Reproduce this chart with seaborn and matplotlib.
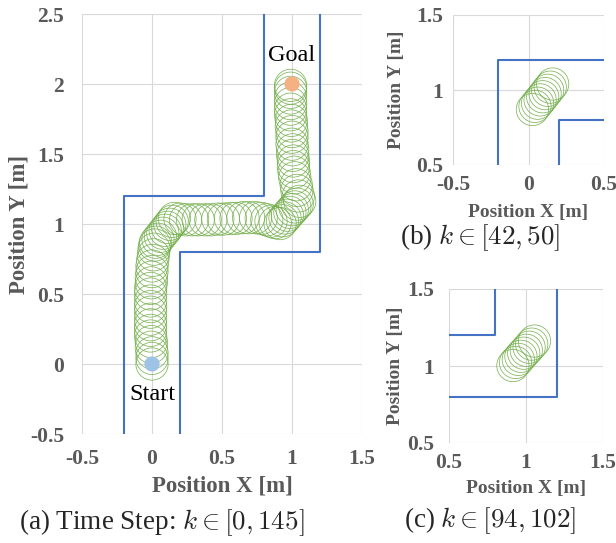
import matplotlib
matplotlib.use("Agg")
import matplotlib.pyplot as plt
import numpy as np
import pandas as pd
import seaborn as sns

# ---- robot footprint centres along the path [m] ----
# leg 1: straight up the first corridor
leg1_x = [0.0, 0.0, 0.0, -0.005, -0.005, -0.01, -0.01, -0.01, -0.01, -0.01, -0.01,
          -0.01, -0.01, -0.01, -0.005, -0.005, 0.0, 0.0, 0.005, 0.01, 0.015, 0.02]
leg1_y = [0.0, 0.04, 0.08, 0.12, 0.16, 0.20, 0.24, 0.28, 0.32, 0.37, 0.41,
          0.45, 0.50, 0.54, 0.58, 0.62, 0.66, 0.70, 0.74, 0.78, 0.82, 0.85]
# first turn, k = 42 ... 50
turn1_x = [0.026, 0.043, 0.06, 0.077, 0.094, 0.11, 0.127, 0.144, 0.16]
turn1_y = [0.87, 0.891, 0.912, 0.934, 0.955, 0.976, 0.998, 1.019, 1.04]
# leg 2: across the middle corridor
leg2_x = [0.20, 0.24, 0.29, 0.33, 0.38, 0.42, 0.47, 0.51, 0.56, 0.60,
          0.65, 0.69, 0.74, 0.78, 0.82, 0.85, 0.88]
leg2_y = [1.035, 1.03, 1.03, 1.03, 1.03, 1.03, 1.035, 1.035, 1.04, 1.04,
          1.045, 1.045, 1.045, 1.04, 1.03, 1.02, 1.01]
# second turn, k = 94 ... 102
turn2_x = [0.915, 0.932, 0.95, 0.967, 0.985, 1.002, 1.02, 1.037, 1.055]
turn2_y = [1.003, 1.023, 1.043, 1.063, 1.083, 1.102, 1.122, 1.142, 1.162]
# leg 3: up the last corridor to the goal
leg3_x = [1.045, 1.035, 1.03, 1.02, 1.015, 1.01, 1.01, 1.005, 1.005, 1.0, 1.0,
          1.0, 0.995, 0.995, 0.99, 0.99, 0.99, 0.99, 0.99, 0.99, 0.99]
leg3_y = [1.20, 1.24, 1.28, 1.33, 1.37, 1.41, 1.45, 1.49, 1.53, 1.57, 1.62,
          1.66, 1.70, 1.74, 1.78, 1.82, 1.86, 1.90, 1.94, 1.97, 1.99]

start_xy = (0.0, 0.0)
goal_xy = (1.0, 2.0)

# corridor walls
wall_left_x = [-0.2, -0.2, 0.8, 0.8]
wall_left_y = [-0.5, 1.2, 1.2, 2.5]
wall_right_x = [0.2, 0.2, 1.2, 1.2]
wall_right_y = [-0.5, 0.8, 0.8, 2.5]

tick_labels = {-0.5: "-0.5", 0.0: "0", 0.5: "0.5", 1.0: "1", 1.5: "1.5", 2.0: "2", 2.5: "2.5"}

GREEN = "#70AD47"
BLUE = "#4472C4"
GRAY = "#595959"
GRID = "#D9D9D9"

sns.set_theme(style="white")
plt.rcParams["font.family"] = ["Liberation Serif", "DejaVu Serif"]
plt.rcParams["mathtext.fontset"] = "cm"

fig = plt.figure(figsize=(6.16, 5.43), dpi=100)
W, H = 616, 543


def add_axes_px(left, top, right, bottom):
    return fig.add_axes([left / W, 1 - bottom / H, (right - left) / W, (bottom - top) / H])


def style_axes(ax, xlim, ylim, xticks, yticks, tick_fs, xpad, ypad, label_fs, xl_pos, yl_pos):
    ax.set_xlim(*xlim)
    ax.set_ylim(*ylim)
    ax.set_xticks(xticks)
    ax.set_yticks(yticks)
    ax.set_xticklabels([tick_labels[v] for v in xticks])
    ax.set_yticklabels([tick_labels[v] for v in yticks])
    for lab in ax.get_xticklabels() + ax.get_yticklabels():
        lab.set_fontweight("bold")
        lab.set_color(GRAY)
        lab.set_fontsize(tick_fs)
    ax.tick_params(axis="x", length=0, pad=xpad)
    ax.tick_params(axis="y", length=0, pad=ypad)
    for s in ax.spines.values():
        s.set_visible(False)
    ax.grid(True, color=GRID, lw=0.8)
    ax.set_axisbelow(True)
    ax.set_xlabel("Position X [m]", fontsize=label_fs, fontweight="bold", color=GRAY, va="center")
    ax.set_ylabel("Position Y [m]", fontsize=label_fs, fontweight="bold", color=GRAY, va="center")
    ax.xaxis.set_label_coords(0.5, xl_pos)
    ax.yaxis.set_label_coords(yl_pos, 0.5)


def draw_walls(ax):
    for wx, wy in ((wall_left_x, wall_left_y), (wall_right_x, wall_right_y)):
        sns.lineplot(x=wx, y=wy, sort=False, estimator=None, ax=ax, color=BLUE, lw=1.5, zorder=2)


def draw_circles(ax, xs, ys):
    sns.scatterplot(x=xs, y=ys, ax=ax, marker="o", s=540, facecolors="none",
                    edgecolor=GREEN, linewidth=0.55, alpha=0.9, zorder=3)


# ---- (a) full run ----
axA = add_axes_px(82, 14, 362, 434)
draw_walls(axA)
path_x = leg1_x + turn1_x + leg2_x + turn2_x + leg3_x
path_y = leg1_y + turn1_y + leg2_y + turn2_y + leg3_y
draw_circles(axA, path_x, path_y)
sns.scatterplot(x=[start_xy[0]], y=[start_xy[1]], ax=axA, s=120, color="#9DC3E6",
                edgecolor="none", zorder=4)
sns.scatterplot(x=[goal_xy[0]], y=[goal_xy[1]], ax=axA, s=120, color="#F4B183",
                edgecolor="none", zorder=4)
axA.text(start_xy[0], -0.215, "Start", ha="center", va="center", fontsize=17.5, color="black")
axA.text(goal_xy[0], 2.205, "Goal", ha="center", va="center", fontsize=17.5, color="black")
style_axes(axA, (-0.5, 1.5), (-0.5, 2.5), [-0.5, 0.0, 0.5, 1.0, 1.5],
           [-0.5, 0.0, 0.5, 1.0, 1.5, 2.0, 2.5], 15.5, 11, 13, 16.5, -0.123, -0.225)

# ---- (b) first turn ----
axB = add_axes_px(453, 15, 604, 165)
draw_walls(axB)
draw_circles(axB, turn1_x, turn1_y)
style_axes(axB, (-0.5, 0.5), (0.5, 1.5), [-0.5, 0.0, 0.5], [0.5, 1.0, 1.5],
           15.5, 7.5, 7, 14, -0.315, -0.373)

# ---- (c) second turn ----
axC = add_axes_px(449, 289, 603, 443)
draw_walls(axC)
draw_circles(axC, turn2_x, turn2_y)
style_axes(axC, (0.5, 1.5), (0.5, 1.5), [0.5, 1.0, 1.5], [0.5, 1.0, 1.5],
           15.5, 7, 11, 14, -0.295, -0.35)

# captions
fig.text(162 / W, 1 - 523 / H, r"(a) Time Step: $k \in [0, 145]$", ha="center", va="center", fontsize=19.5)
fig.text(480 / W, 1 - 238 / H, r"(b) $k \in [42, 50]$", ha="center", va="center", fontsize=19.5)
fig.text(490 / W, 1 - 521 / H, r"(c) $k \in [94, 102]$", ha="center", va="center", fontsize=19.5)

fig.savefig("out.png", dpi=100)
